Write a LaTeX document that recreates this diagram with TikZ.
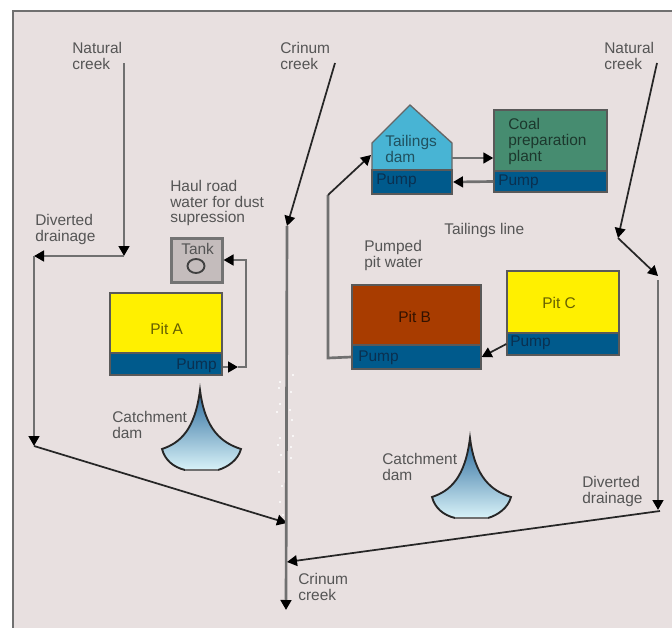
\documentclass[tikz,border=0pt]{standalone}
\usepackage{fontspec}
\setmainfont{Liberation Sans}
\usetikzlibrary{arrows.meta,shapes.geometric}
\definecolor{mineback}{HTML}{E8E0E0}
\definecolor{mineedge}{HTML}{707070}
\definecolor{minetext}{HTML}{555555}
\definecolor{pitblue}{HTML}{005A8C}
\definecolor{pittext}{HTML}{0A3050}
\definecolor{pityellow}{HTML}{FFF000}
\definecolor{pitbrown}{HTML}{A83C00}
\definecolor{plantgreen}{HTML}{468C70}
\definecolor{damblue}{HTML}{48B4D4}
\definecolor{tankgray}{HTML}{C4BCBC}
\definecolor{damtop}{HTML}{2A6A9C}
\definecolor{dammid}{HTML}{7FB4D0}
\definecolor{damfoot}{HTML}{D8F2F8}
\tikzset{
  labeltext/.style={anchor=west, inner sep=0pt, align=left, text=minetext, font=\fontsize{11.6}{12}\selectfont},
  boxtext/.style={labeltext, text=pittext},
  pitbox/.style={draw=black!65, line width=1pt, inner sep=0pt},
  flowline/.style={draw=mineedge, line width=2pt, -{Triangle[black,length=7.5pt,width=8pt]}},
  slopeline/.style={draw=black!85, line width=1.3pt, -{Triangle[black,length=7.5pt,width=8pt]}},
  plainline/.style={draw=mineedge, line width=2pt}
}
\begin{document}
\begin{tikzpicture}[x=0.75pt,y=-0.75pt]
    \useasboundingbox (0,0) rectangle (672,628);
    \fill[mineback] (13,11) rectangle (672,628);
    \draw[mineedge, line width=1pt] (13,628) -- (13,11) -- (672,11);

    % boxes
    \node[pitbox, fill=tankgray, draw=black!55, line width=1.8pt, minimum width=38pt, minimum height=33pt] (tank) at (197,260.5) {};
    \draw[black!75, line width=1.4pt] (196,266) ellipse (8.5 and 7);
    \node[pitbox, fill=pityellow, minimum width=84pt, minimum height=45pt] (pita) at (166,323) {};
    \node[pitbox, fill=pitblue, minimum width=84pt, minimum height=16.5pt] (pumpa) at (166,364) {};
    \node[pitbox, fill=pitbrown, minimum width=96.75pt, minimum height=45pt] (pitb) at (416.5,315) {};
    \node[pitbox, fill=pitblue, minimum width=96.75pt, minimum height=18pt] (pumpb) at (416.5,357) {};
    \node[pitbox, fill=pityellow, minimum width=84pt, minimum height=46.5pt] (pitc) at (563,302) {};
    \node[pitbox, fill=pitblue, minimum width=84pt, minimum height=16.5pt] (pumpc) at (563,344) {};
    \node[pitbox, fill=plantgreen, minimum width=84.75pt, minimum height=45.75pt] (plant) at (550.5,140.5) {};
    \node[pitbox, fill=pitblue, minimum width=84.75pt, minimum height=15.75pt] (pumpp) at (550.5,181.5) {};
    \filldraw[damblue, draw=black!60, line width=1pt] (372,170) -- (372,143) -- (410,105) -- (452,143) -- (452,170) -- cycle;
    \node[pitbox, fill=pitblue, minimum width=60pt, minimum height=18pt] (pumpt) at (412,182) {};

    % catchment dams
    \foreach \dx/\dy in {0/0,270/48} {
      \begin{scope}[shift={(\dx,\dy)}]
        \path[top color=damtop, middle color=dammid, bottom color=damfoot]
          (200,390) .. controls (205,430) and (222,443) .. (241,449) .. controls (238,460) and (228,467) .. (218,470)
          -- (185,470) .. controls (173,467) and (165,460) .. (162,449) .. controls (180,443) and (195,430) .. (200,390) -- cycle;
        \draw[black!85, line width=1.4pt] (218,470) .. controls (228,467) and (238,460) .. (241,449) .. controls (222,443) and (205,430) .. (200,390)
          .. controls (195,430) and (180,443) .. (162,449) .. controls (165,460) and (173,467) .. (185,470);
        \draw[mineedge, line width=1.4pt] (185,470) -- (218,470);
      \end{scope}
    }

    % turning points
    \coordinate (nlstart) at (124,63);
    \coordinate (nlbend) at (124,256);
    \coordinate (ddlbend) at (34,256);
    \coordinate (ddlfoot) at (34,446);
    \coordinate (crstart) at (335,63);
    \coordinate (crtop) at (287,226);
    \coordinate (crmeet) at (287,523);
    \coordinate (crjoin) at (287,562);
    \coordinate (crend) at (286,610);
    \coordinate (nrstart) at (657,63);
    \coordinate (nrbend) at (618,238);
    \coordinate (nrdrop) at (658,276);
    \coordinate (ddrtop) at (658,280);
    \coordinate (ddrfoot) at (658,510);
    \coordinate (ddrstart) at (660,511);
    \coordinate (haulmid) at (238,367);
    \coordinate (haulbend) at (246,367);
    \coordinate (haultop) at (246,260);
    \coordinate (pumpedbend) at (328,358);
    \coordinate (pumpedtop) at (328,195);
    \coordinate (damin) at (371,155);
    \coordinate (damout) at (452,158);
    \coordinate (damback) at (453,182);

    % water lines
    \foreach \px/\py in {280/382,293/375,279/388,291/392,280/404,290/410,277/412,292/420,280/438,293/436,278/445,291/447,281/455,291/458,279/472,282/486,280/502,283/515}
      \fill[white] (\px,\py) circle (1.1);
    \draw[flowline] (nlstart) -- (nlbend);
    \draw[flowline] (nlbend) -- (ddlbend);
    \draw[flowline] (ddlbend) -- (ddlfoot);
    \draw[slopeline] (ddlfoot) -- (crmeet);
    \draw[slopeline] (crstart) -- (crtop);
    \draw[flowline] (crtop) -- (crend);
    \draw[slopeline] (nrstart) -- (nrbend);
    \draw[slopeline] (nrbend) -- (nrdrop);
    \draw[flowline] (ddrtop) -- (ddrfoot);
    \draw[slopeline] (ddrstart) -- (crjoin);
    \draw[flowline] (pumpa.east |- haulmid) -- (haulmid);
    \draw[flowline] (haulmid) -- (haulbend) -- (haultop) -- (tank.east |- haultop);
    \draw[slopeline] (pumpc.west) -- (pumpb.east);
    \draw[plainline] (pumpb.west) -- (pumpedbend) -- (pumpedtop);
    \draw[slopeline] (pumpedtop) -- (damin);
    \draw[flowline] (damout) -- (plant.west |- damout);
    \draw[flowline] (pumpp.west) -- (damback);

    % labels
    \node[labeltext] (lnatl) at (72,56) {Natural\\creek};
    \node[labeltext] (lcrt) at (280,56) {Crinum\\creek};
    \node[labeltext] (lnatr) at (604,56) {Natural\\creek};
    \node[labeltext] (lhaul) at (170,203) {Haul road\\water for dust\\supression};
    \node[labeltext] (ldivl) at (35,229) {Diverted\\drainage};
    \node[labeltext] (ltank) at (181,249) {Tank};
    \node[labeltext] (ltail) at (444,230) {Tailings line};
    \node[labeltext] (lpumped) at (364,255) {Pumped\\pit water};
    \node[labeltext] (lcatl) at (112,425) {Catchment\\dam};
    \node[labeltext] (lcatr) at (382,467) {Catchment\\dam};
    \node[labeltext] (ldivr) at (582,491) {Diverted\\drainage};
    \node[labeltext] (lcrb) at (298,587) {Crinum\\creek};

    \node[boxtext, text=black!60!pityellow] (lpita) at (150,329) {Pit A};
    \node[boxtext, text=black!70!pitbrown] (lpitb) at (398,317) {Pit B};
    \node[boxtext, text=black!60!pityellow] (lpitc) at (542,303) {Pit C};
    \node[boxtext] (lpumpa) at (176,366) {Pump};
    \node[boxtext] (lpumpb) at (358,358) {Pump};
    \node[boxtext] (lpumpc) at (510,343) {Pump};
    \node[boxtext] (lpumpt) at (376,181) {Pump};
    \node[boxtext] (lpumpp) at (498,182) {Pump};
    \node[boxtext, text=black!55!damblue] (ldam) at (385,149) {Tailings\\dam};
    \node[boxtext, text=black!60!plantgreen] (lplant) at (508,141) {Coal\\preparation\\plant};
\end{tikzpicture}
\end{document}
